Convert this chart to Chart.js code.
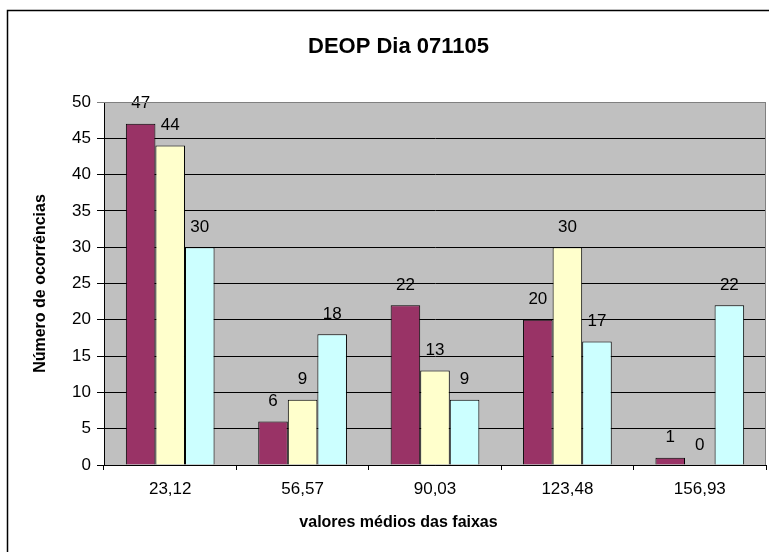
<!DOCTYPE html>
<html>
<head>
<meta charset="utf-8">
<title>DEOP Dia 071105</title>
<script src="https://cdn.jsdelivr.net/npm/chart.js@4"></script>
<style>
  body { margin: 0; background: #fff; }
  #wrap { position: relative; width: 769px; height: 552px; }
</style>
</head>
<body>
<div id="wrap"><canvas id="myChart"></canvas></div>
<script>
// data
var faixas = ['23,12', '56,57', '90,03', '123,48', '156,93'];
var serie1 = [47, 6, 22, 20, 1];
var serie2 = [44, 9, 13, 30, 0];
var serie3 = [30, 18, 9, 17, 22];
var yTicks = [0, 5, 10, 15, 20, 25, 30, 35, 40, 45, 50];

var fontName = '"Liberation Sans", Arial, sans-serif';

// gray plot area + outer frame
var backdrop = {
  id: 'backdrop',
  beforeDraw: function(chart) {
    var ctx = chart.ctx, a = chart.chartArea;
    ctx.save();
    ctx.fillStyle = '#fff';
    ctx.fillRect(0, 0, chart.width, chart.height);
    ctx.fillStyle = '#C0C0C0';
    ctx.fillRect(a.left, a.top, a.right - a.left, a.bottom - a.top);
    // frame round the whole chart (runs off the right and bottom)
    ctx.strokeStyle = '#000';
    ctx.lineWidth = 1.5;
    ctx.beginPath();
    ctx.moveTo(7.5, chart.height);
    ctx.lineTo(7.5, 10.5);
    ctx.lineTo(chart.width, 10.5);
    ctx.stroke();
    ctx.restore();
  },
  afterDraw: function(chart) {
    var ctx = chart.ctx, a = chart.chartArea;
    ctx.save();
    ctx.strokeStyle = '#808080';
    ctx.lineWidth = 1;
    ctx.beginPath();
    ctx.moveTo(a.left, a.top + 0.5);
    ctx.lineTo(a.right - 0.5, a.top + 0.5);
    ctx.lineTo(a.right - 0.5, a.bottom);
    ctx.stroke();
    ctx.restore();
  }
};

// value labels above the bars
var valueLabels = {
  id: 'valueLabels',
  afterDatasetsDraw: function(chart) {
    var ctx = chart.ctx;
    ctx.save();
    ctx.font = '17px ' + fontName;
    ctx.fillStyle = '#000';
    ctx.textAlign = 'center';
    ctx.textBaseline = 'middle';
    chart.data.datasets.forEach(function(ds, i) {
      chart.getDatasetMeta(i).data.forEach(function(bar, j) {
        ctx.fillText(String(ds.data[j]), bar.x, bar.y - 20);
      });
    });
    ctx.restore();
  }
};

var data = {
  labels: faixas,
  datasets: [{
    label: 'Série 1',
    data: serie1,
    backgroundColor: '#993366',
    borderColor: '#000',
    borderWidth: 1
  }, {
    label: 'Série 2',
    data: serie2,
    backgroundColor: '#FFFFCC',
    borderColor: '#000',
    borderWidth: 1
  }, {
    label: 'Série 3',
    data: serie3,
    backgroundColor: '#CCFFFF',
    borderColor: '#000',
    borderWidth: 1
  }]
};

var config = {
  type: 'bar',
  data: data,
  options: {
    responsive: true,
    maintainAspectRatio: false,
    animation: false,
    categoryPercentage: 0.67,
    barPercentage: 1,
    layout: { padding: { left: 31, right: 3, top: 0, bottom: 0 } },
    plugins: {
      legend: { display: false },
      tooltip: { enabled: false },
      title: {
        display: true,
        text: 'DEOP Dia 071105',
        color: '#000',
        font: { family: fontName, size: 22, weight: 'bold' },
        padding: { top: 33.8, bottom: 41.8 }
      },
      subtitle: {
        display: true,
        position: 'bottom',
        text: 'valores médios das faixas',
        color: '#000',
        font: { family: fontName, size: 16, weight: 'bold' },
        padding: { top: 8.4, bottom: 19.4 }
      }
    },
    scales: {
      x: {
        afterFit: function(s) { s.height = 40; },
        grid: { drawOnChartArea: false, drawTicks: true, tickLength: 5, color: '#000' },
        border: { color: '#000', width: 1 },
        ticks: { color: '#000', padding: 9, font: { family: fontName, size: 17 } }
      },
      y: {
        min: 0,
        max: 50,
        afterFit: function(s) { s.width = 73; },
        afterBuildTicks: function(s) { s.ticks = yTicks.map(function(v) { return { value: v }; }); },
        grid: {
          tickLength: 7,
          color: function(c) { return c.tick && c.tick.value === 50 ? '#808080' : '#000'; }
        },
        border: { color: '#000', width: 1 },
        ticks: { color: '#000', padding: 6, font: { family: fontName, size: 17 } },
        title: {
          display: true,
          text: 'Número de ocorrências',
          color: '#000',
          font: { family: fontName, size: 16, weight: 'bold' },
          padding: { top: 0, bottom: 0 }
        }
      }
    }
  },
  plugins: [backdrop, valueLabels]
};

var myChart = new Chart(document.getElementById('myChart'), config);
</script>
</body>
</html>
